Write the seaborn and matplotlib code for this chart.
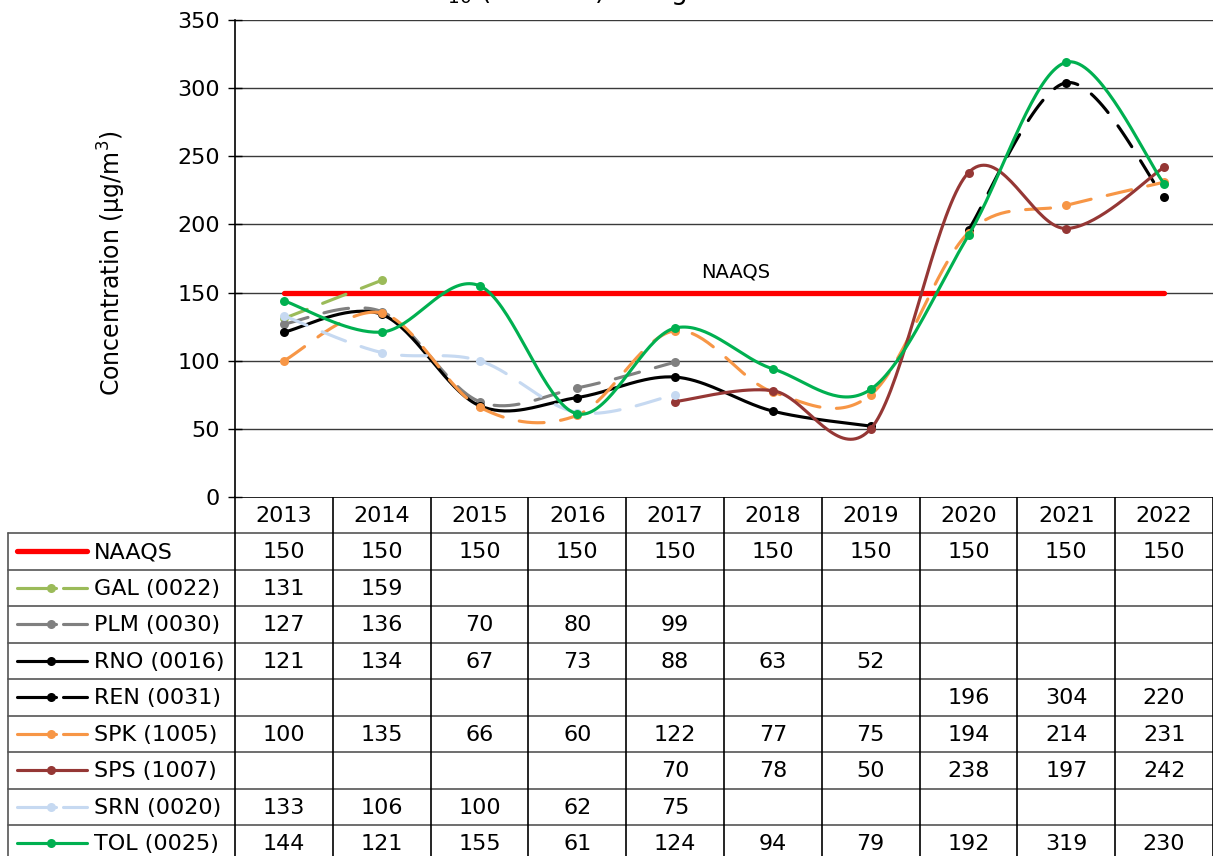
import numpy as np
import pandas as pd
import matplotlib
matplotlib.use("Agg")
import matplotlib.pyplot as plt
import seaborn as sns
from matplotlib.lines import Line2D

years = [2013, 2014, 2015, 2016, 2017, 2018, 2019, 2020, 2021, 2022]
nan = np.nan

naaqs = [150, 150, 150, 150, 150, 150, 150, 150, 150, 150]
gal = [131, 159, nan, nan, nan, nan, nan, nan, nan, nan]
plm = [127, 136, 70, 80, 99, nan, nan, nan, nan, nan]
rno = [121, 134, 67, 73, 88, 63, 52, nan, nan, nan]
ren = [nan, nan, nan, nan, nan, nan, nan, 196, 304, 220]
spk = [100, 135, 66, 60, 122, 77, 75, 194, 214, 231]
sps = [nan, nan, nan, nan, 70, 78, 50, 238, 197, 242]
srn = [133, 106, 100, 62, 75, nan, nan, nan, nan, nan]
tol = [144, 121, 155, 61, 124, 94, 79, 192, 319, 230]

series_names = ["NAAQS", "GAL (0022)", "PLM (0030)", "RNO (0016)", "REN (0031)",
                "SPK (1005)", "SPS (1007)", "SRN (0020)", "TOL (0025)"]
series_vals = [naaqs, gal, plm, rno, ren, spk, sps, srn, tol]
colors = ["#FF0000", "#9BBB59", "#808080", "#000000", "#000000",
          "#F79646", "#953735", "#C6D9F1", "#00B050"]
dashed = [False, True, True, False, True, True, False, True, False]


def smooth(xs, ys, n=40):
    # excel-like smoothed line (bezier through the points)
    pts = np.column_stack([xs, ys]).astype(float)
    if len(pts) < 2:
        return pts
    out = [pts[0]]
    t = np.linspace(0, 1, n)[1:, None]
    for i in range(len(pts) - 1):
        p0 = pts[i - 1] if i > 0 else pts[i]
        p1 = pts[i]
        p2 = pts[i + 1]
        p3 = pts[i + 2] if i + 2 < len(pts) else pts[i + 1]
        c1 = p1 + (p2 - p0) / 6
        c2 = p2 - (p3 - p1) / 6
        seg = (1 - t) ** 3 * p1 + 3 * (1 - t) ** 2 * t * c1 + 3 * (1 - t) * t ** 2 * c2 + t ** 3 * p2
        out.extend(seg)
    return np.array(out)


sns.set_theme(style="white")
plt.rcParams['font.family'] = ['DejaVu Sans']
plt.rcParams['text.color'] = 'black'
plt.rcParams['axes.labelcolor'] = 'black'
plt.rcParams['ytick.color'] = 'black'
plt.rcParams['xtick.color'] = 'black'

W, H = 1213, 856
fig = plt.figure(figsize=(W / 100, H / 100), dpi=100)

ax = fig.add_axes([235 / W, (H - 497) / H, (W - 235) / W, 477 / H])
ax.set_xlim(-0.5, 9.5)
ax.set_ylim(0, 350)
ax.set_yticks(range(0, 351, 50))
ax.set_xticks([])
for y in range(50, 351, 50):
    ax.axhline(y, color="#3a3a3a", lw=1, zorder=0)
for s in ["top", "right", "bottom"]:
    ax.spines[s].set_visible(False)
ax.spines["left"].set_color("black")
ax.spines["left"].set_linewidth(1.2)
ax.tick_params(axis="y", which="major", left=True, length=10, width=1, color="black",
               labelsize=16, pad=6, direction="inout")

for k, (name, vals, col, dsh) in enumerate(zip(series_names, series_vals, colors, dashed)):
    v = np.array(vals, dtype=float)
    idx = np.where(~np.isnan(v))[0]
    if name == "NAAQS":
        df = pd.DataFrame({"x": idx, "y": v[idx]})
        sns.lineplot(data=df, x="x", y="y", ax=ax, color=col, lw=3.8,
                     solid_capstyle="round", zorder=2)
        continue
    curve = smooth(idx, v[idx])
    df = pd.DataFrame({"x": curve[:, 0], "y": curve[:, 1]})
    ls = (0, (8, 5.3)) if dsh else "-"
    sns.lineplot(data=df, x="x", y="y", ax=ax, color=col, lw=2.25, sort=False,
                 estimator=None, linestyle=ls, dash_capstyle="round",
                 solid_capstyle="round", zorder=3 + k)
    pts = pd.DataFrame({"x": idx, "y": v[idx]})
    sns.scatterplot(data=pts, x="x", y="y", ax=ax, color=col, s=42, linewidth=0,
                    zorder=3.5 + k)

ax.set_xlabel("")
ax.set_ylabel("Concentration (µg/m$^{3}$)", fontsize=17)
ax.yaxis.set_label_coords(-0.109, 0.49)
ax.text(4.62, 165, "NAAQS", ha="center", va="center", fontsize=14)

# title (mostly cut off at the top edge, as in the original)
fig.text(605 / W, (H + 1) / H, "PM$_{10}$ (24-hour) Design Values", ha="center",
         va="baseline", fontsize=19)

# data table under the chart
tab = fig.add_axes([0, 0, 1, 1], zorder=-1)
tab.set_xlim(0, W)
tab.set_ylim(H, 0)
tab.axis("off")

col_w = (W - 235) / 10
x_b = [235 + col_w * k for k in range(11)]
row_h = 36.5
top_hdr = 497
top_rows = 533

tab.plot([235, W], [top_hdr, top_hdr], color="black", lw=1.2)
for i in range(len(series_names) + 1):
    yy = top_rows + row_h * i
    tab.plot([8, W], [yy, yy], color="#555555", lw=1.2)
for xb in x_b:
    tab.plot([xb, xb], [top_hdr, H], color="black", lw=1.2)
tab.plot([8, 8], [top_rows, H], color="#555555", lw=1.2)

for k, yr in enumerate(years):
    tab.text(235 + col_w * (k + 0.5), (top_hdr + top_rows) / 2 + 1, str(yr),
             ha="center", va="center", fontsize=16)

for i, (name, vals, col, dsh) in enumerate(zip(series_names, series_vals, colors, dashed)):
    yc = top_rows + row_h * (i + 0.5)
    if name == "NAAQS":
        tab.add_line(Line2D([17, 87], [yc, yc], color=col, lw=3.8, solid_capstyle="round"))
    elif dsh:
        tab.add_line(Line2D([17, 56], [yc, yc], color=col, lw=2.25, solid_capstyle="round"))
        tab.add_line(Line2D([63, 87], [yc, yc], color=col, lw=2.25, solid_capstyle="round"))
        tab.plot([51], [yc], "o", color=col, ms=6.5, mew=0)
    else:
        tab.add_line(Line2D([17, 87], [yc, yc], color=col, lw=2.25, solid_capstyle="round"))
        tab.plot([51], [yc], "o", color=col, ms=6.5, mew=0)
    tab.text(94, yc + 1, name, ha="left", va="center", fontsize=16)
    for k, val in enumerate(vals):
        if not np.isnan(val):
            tab.text(235 + col_w * (k + 0.5), yc + 1, f"{int(val)}",
                     ha="center", va="center", fontsize=16)

fig.savefig("out.png", dpi=100)
